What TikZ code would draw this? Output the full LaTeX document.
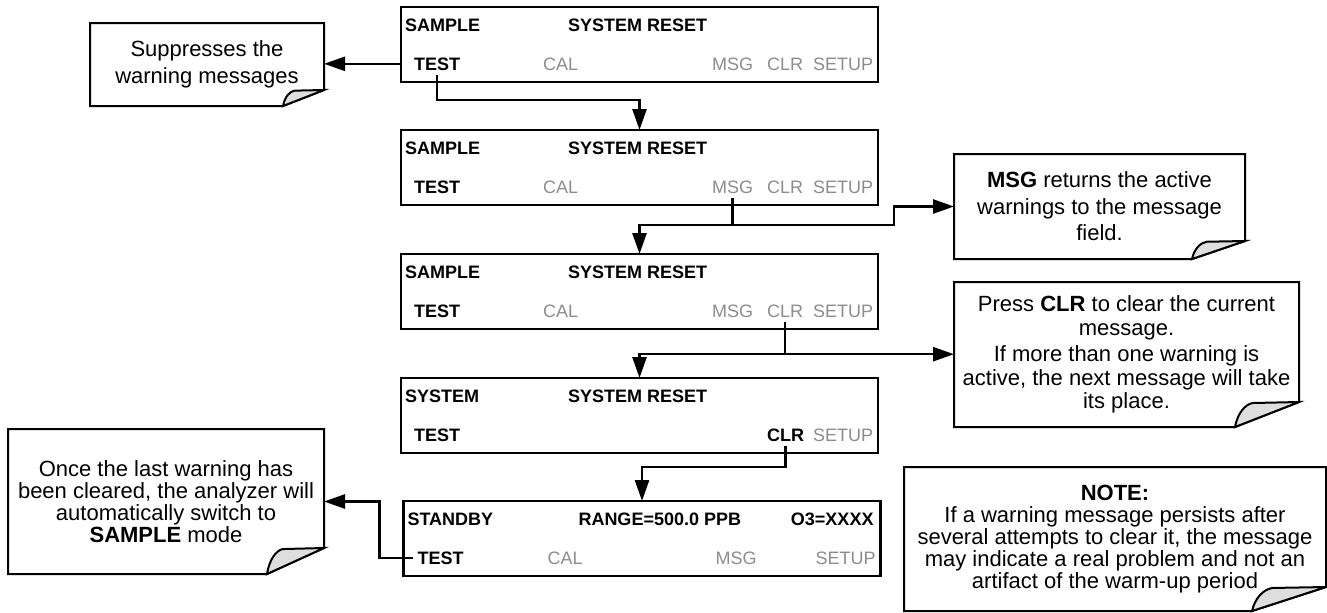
\documentclass[tikz,border=0pt]{standalone}
\usepackage{fontspec}
\setmainfont{Liberation Sans}
\usetikzlibrary{arrows.meta,calc,positioning}
\definecolor{keygray}{RGB}{140,140,140}
\definecolor{flapgray}{RGB}{222,222,222}
\tikzset{
    screen/.style={draw, line width=1.35pt, minimum width=238.5pt, minimum height=37.5pt, inner sep=0pt, outer sep=0pt},
    lbl/.style={font=\fontsize{9}{10}\selectfont\bfseries, anchor=base west, inner sep=0pt, outer sep=0pt},
    key/.style={lbl, font=\fontsize{9}{10}\selectfont, text=keygray},
    flow/.style={line width=1.3pt, -{Triangle[length=10.5pt,width=7pt]}},
    callout/.style={align=center, inner sep=0pt, outer sep=0pt, font=\fontsize{11}{13.3}\selectfont},
    notebox/.style={line width=1pt, line join=miter}
}
% note box with a turned-up corner: node, fold width, fold height
\newcommand{\dogear}[3]{
    \draw[notebox] (#1.south west) -- (#1.north west) -- (#1.north east) -- ([yshift=#3]#1.south east) -- ([xshift=-#2]#1.south east) -- cycle;
    \filldraw[notebox, fill=flapgray] ([xshift=-#2]#1.south east) .. controls +({0.04*#2},{0.55*#3}) and +({-0.12*#2},{-0.04*#3}) .. ([xshift={-0.72*#2},yshift={0.96*#3}]#1.south east) -- ([yshift=#3]#1.south east) -- cycle;
}

\begin{document}
\begin{tikzpicture}[x=0.5pt, y=-0.5pt]
    \useasboundingbox (0,0) rectangle (1327,612);
    % screens
    \foreach \i/\t in {1/7,2/130,3/254}{
        \node[screen] (b\i) at (639.5,\t+37.5) {};
        \node[lbl] (b\i mode) at ($(b\i.north west)+(4,24)$) {SAMPLE};
        \node[lbl] (b\i head) at ($(b\i.north west)+(167,24)$) {SYSTEM RESET};
        \node[lbl] (b\i test) at ($(b\i.north west)+(13,63)$) {TEST};
        \node[key] (b\i cal) at ($(b\i.north west)+(142,63)$) {CAL};
        \node[key] (b\i msg) at ($(b\i.north west)+(311,63)$) {MSG};
        \node[key] (b\i clr) at ($(b\i.north west)+(366,63)$) {CLR};
        \node[key] (b\i setup) at ($(b\i.north west)+(412,63)$) {SETUP};
    }
    \node[screen] (b4) at (639.5,415.5) {};
    \node[lbl] (b4mode) at ($(b4.north west)+(4,24)$) {SYSTEM};
    \node[lbl] (b4head) at ($(b4.north west)+(167,24)$) {SYSTEM RESET};
    \node[lbl] (b4test) at ($(b4.north west)+(13,63)$) {TEST};
    \node[lbl] (b4clr) at ($(b4.north west)+(366,63)$) {CLR};
    \node[key] (b4setup) at ($(b4.north west)+(412,63)$) {SETUP};

    \node[screen] (b5) at (642,538.5) {};
    \node[lbl] (b5mode) at ($(b5.north west)+(4,24)$) {STANDBY};
    \node[lbl] (b5range) at ($(b5.north west)+(175,24)$) {RANGE=500.0 PPB};
    \node[lbl, anchor=base east] (b5conc) at ($(b5.north west)+(470,24)$) {O3=XXXX};
    \node[lbl] (b5test) at ($(b5.north west)+(14,63)$) {TEST};
    \node[key] (b5cal) at ($(b5.north west)+(144,63)$) {CAL};
    \node[key] (b5msg) at ($(b5.north west)+(312,63)$) {MSG};
    \node[key] (b5setup) at ($(b5.north west)+(412,63)$) {SETUP};

    % notes
    \node[callout, minimum width=117pt, minimum height=41.5pt] (c1) at (207,64.5) {Suppresses the\\warning messages};
    \dogear{c1}{20.5pt}{8pt}
    \node[callout, minimum width=145.5pt, minimum height=52.5pt] (c2) at (1099.5,206.5) {\textbf{MSG} returns the active\\warnings to the message\\field.};
    \dogear{c2}{26.5pt}{9pt}
    \node[callout, minimum width=172.5pt, minimum height=72.5pt, font=\fontsize{11}{11.75}\selectfont] (c3) at (1126.5,354.5) {Press \textbf{CLR} to clear the current\\message.\\[1.7pt]If more than one warning is\\active, the next message will take\\its place.};
    \dogear{c3}{32pt}{12.5pt}
    \node[callout, minimum width=158pt, minimum height=72.5pt, font=\fontsize{11}{11}\selectfont] (c4) at (166,501.5) {Once the last warning has\\been cleared, the analyzer will\\automatically switch to\\\textbf{SAMPLE} mode};
    \dogear{c4}{28.5pt}{13pt}
    \node[callout, minimum width=211pt, minimum height=72pt, font=\fontsize{11}{11}\selectfont] (cnote) at (1115,539) {\textbf{NOTE:}\\If a warning message persists after\\several attempts to clear it, the message\\may indicate a real problem and not an\\artifact of the warm-up period};
    \dogear{cnote}{37pt}{12pt}

    % connectors
    \draw[flow] (b1test.west -| b1.west) -- (b1test.west -| c1.east);
    \draw[flow, shorten <=2.5pt] (b1test.south) -- ++(0,30) -| (b2.north);

    \coordinate (j2) at ($(b2msg.south)+(0,32)$);
    \draw[flow, shorten <=2.5pt] (b2msg.south) -- (j2) -| (b3.north);
    \draw[flow] (j2) -| ($(c2.west)+(-60,0)$) -- (c2.west);

    \coordinate (j3) at ($(b3clr.south)+(0,37)$);
    \draw[flow, shorten <=2.5pt] (b3clr.south) -- (j3) -| (b4.north);
    \draw[flow] (j3) -- (j3 -| c3.west);

    \draw[flow, shorten <=2.5pt] (b4clr.south) -- ++(0,26) -| (b5.north);
    \draw[flow, shorten <=2.5pt] (b5test.west) -- ++(-38,0) |- (c4.east);
\end{tikzpicture}
\end{document}
